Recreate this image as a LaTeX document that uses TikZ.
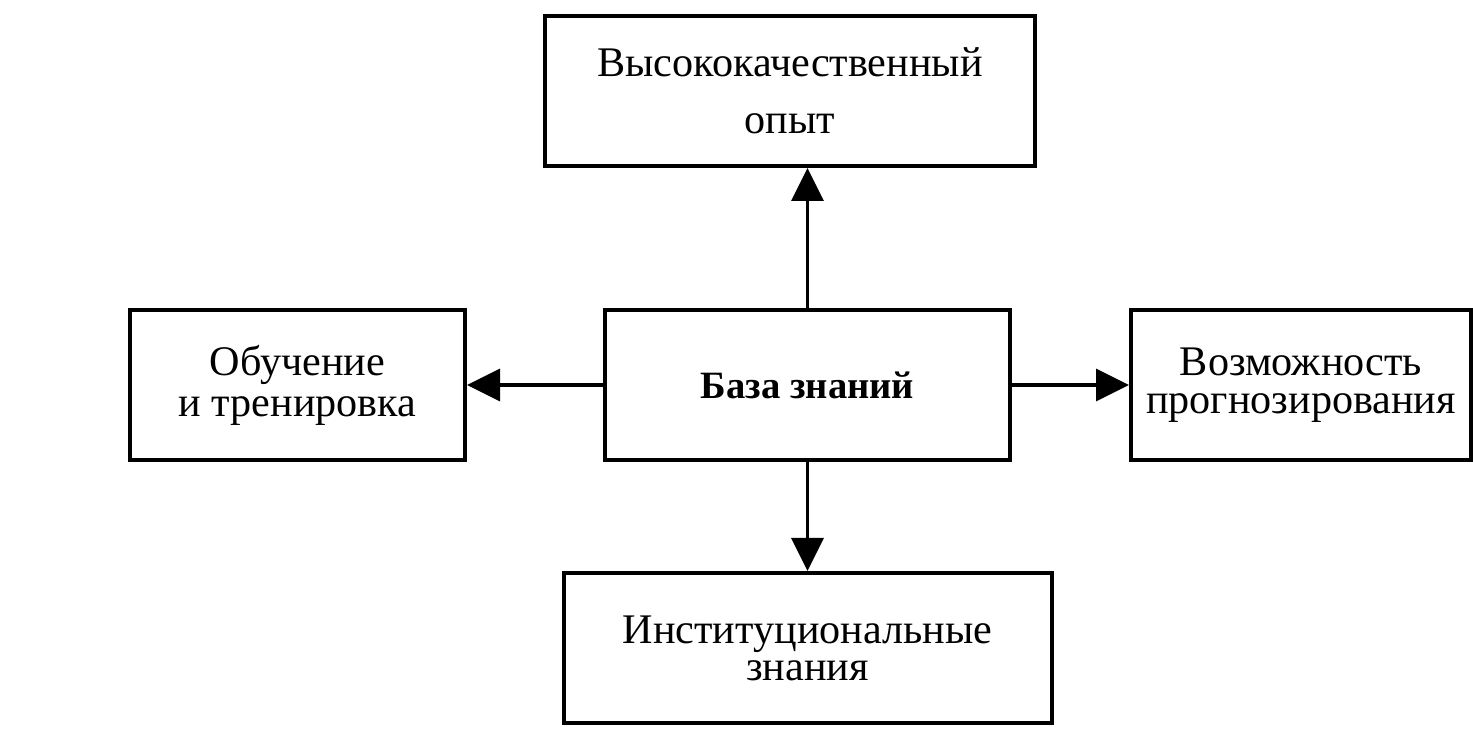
\documentclass[tikz,border=0pt]{standalone}
\usepackage{fontspec}
\setmainfont{Liberation Serif}
\usepackage{tikz}
\usetikzlibrary{positioning,arrows.meta}

\begin{document}
\begin{tikzpicture}[
	block/.style={
		draw,
		rectangle,
		line width=0.4mm,
		minimum height=1.5cm,
		align=center,
		font=\fontsize{12}{14.5}\selectfont
	},
	conn/.style={
		line width=0.35mm,
		-{Triangle[length=3.3mm,width=3.2mm]}
	},
	node distance=13mm
	]
	\useasboundingbox (0,0) rectangle (14.73,7.37);
	\node[block,minimum width=4.05cm,font=\fontsize{11}{13}\selectfont] at (8.075,3.52)
	(base) {\textbf{База знаний}};
	\node[block,minimum width=4.9cm,above=1.4cm of base,xshift=-1.75mm]
	(exp) {Высококачественный\\[0.6mm] опыт};
	\node[block,minimum width=3.35cm,left=1.36cm of base]
	(train) {Обучение\\[-1mm] и тренировка};
	\node[block,minimum width=3.4cm,right=1.17cm of base]
	(fore) {Возможность\\[-1.3mm] прогнозирования};
	\node[block,minimum width=4.88cm,below=1.09cm of base]
	(inst) {Институциональные\\[-1.4mm] знания};
	
	\draw[conn] (base.north) -- (base.north |- exp.south);
	\draw[conn] (base.west) -- (train.east);
	\draw[conn] (base.east) -- (fore.west);
	\draw[conn] (base.south) -- (base.south |- inst.north);
\end{tikzpicture}
\end{document}
